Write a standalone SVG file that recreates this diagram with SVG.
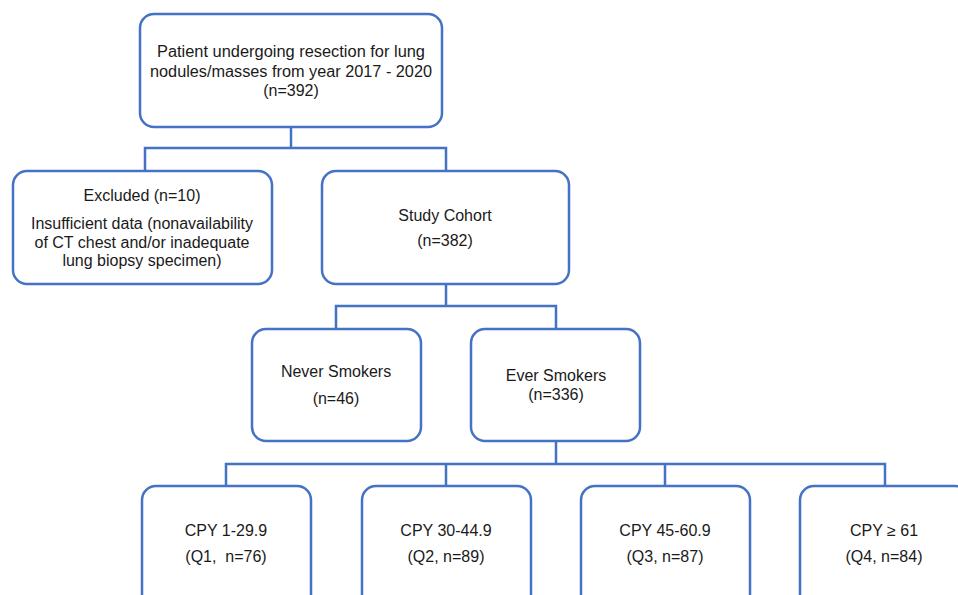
<svg xmlns="http://www.w3.org/2000/svg" width="958" height="595" viewBox="0 0 958 595">
<style>
.box{fill:#fff;stroke:#4472c4;stroke-width:2.5}
.con{fill:none;stroke:#4472c4;stroke-width:2.5}
text{font-family:"Liberation Sans",Arial,sans-serif;font-size:16px;fill:#1a1a1a;text-anchor:middle}
</style>
<rect width="958" height="595" fill="#fff"/>
<g id="connectors">
<path class="con" d="M291 127V148M145 172V148H446V172"/>
<path class="con" d="M446 284V306M336 330V306H556V330"/>
<path class="con" d="M556 441V464M226 487V464H885V487M446 464V487M665 464V487"/>
</g>
<g id="n1"><rect class="box" x="140" y="14" width="302" height="113" rx="14"/>
<text x="291" y="57" textLength="268" lengthAdjust="spacingAndGlyphs">Patient undergoing resection for lung</text>
<text x="291" y="77" textLength="282" lengthAdjust="spacingAndGlyphs">nodules/masses from year 2017 - 2020</text>
<text x="291" y="96">(n=392)</text></g>
<g id="excluded"><rect class="box" x="13" y="171" width="259" height="113" rx="14"/>
<text x="142" y="201">Excluded (n=10)</text>
<text x="142" y="229">Insufficient data (nonavailability</text>
<text x="142" y="248">of CT chest and/or inadequate</text>
<text x="142" y="266">lung biopsy specimen)</text></g>
<g id="cohort"><rect class="box" x="322" y="171" width="247" height="113" rx="14"/>
<text x="445" y="221">Study Cohort</text>
<text x="445" y="246">(n=382)</text></g>
<g id="never"><rect class="box" x="252" y="329" width="169" height="112" rx="14"/>
<text x="336" y="377">Never Smokers</text>
<text x="336" y="404">(n=46)</text></g>
<g id="ever"><rect class="box" x="471" y="329" width="169" height="112" rx="14"/>
<text x="556" y="381">Ever Smokers</text>
<text x="556" y="400">(n=336)</text></g>
<g id="q1"><rect class="box" x="142" y="486" width="169" height="130" rx="14"/>
<text x="226" y="536">CPY 1-29.9</text>
<text x="226" y="562" xml:space="preserve">(Q1,  n=76)</text></g>
<g id="q2"><rect class="box" x="362" y="486" width="169" height="130" rx="14"/>
<text x="446" y="536">CPY 30-44.9</text>
<text x="446" y="562">(Q2, n=89)</text></g>
<g id="q3"><rect class="box" x="581" y="486" width="169" height="130" rx="14"/>
<text x="665" y="536">CPY 45-60.9</text>
<text x="665" y="562">(Q3, n=87)</text></g>
<g id="q4"><rect class="box" x="800" y="486" width="169" height="130" rx="14"/>
<text x="884" y="536">CPY ≥ 61</text>
<text x="884" y="562">(Q4, n=84)</text></g>
</svg>
